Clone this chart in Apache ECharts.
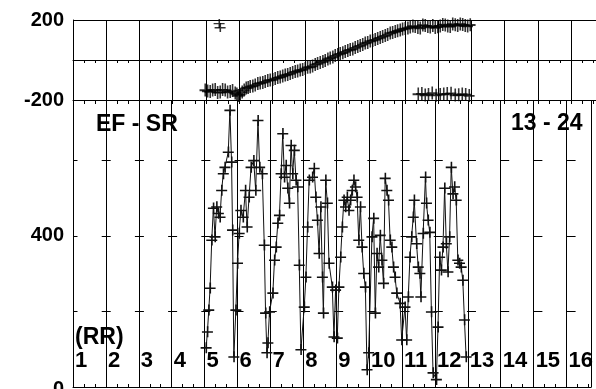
<!DOCTYPE html>
<html>
<head>
<meta charset="utf-8">
<script src="https://cdn.jsdelivr.net/npm/echarts@6/dist/echarts.min.js"></script>
<style>
html, body { margin: 0; padding: 0; background: #fff; }
#main { width: 596px; height: 389px; }
</style>
</head>
<body>
<div id="main"></div>
<script>
// upper panel: -200..200
var upperDays = [4.976, 5.127, 5.277, 5.428, 5.578, 5.729, 5.880, 5.970, 6.090, 6.211,
  6.331, 6.482, 6.633, 6.783, 6.934, 7.084, 7.235, 7.386, 7.536, 7.687,
  7.837, 7.988, 8.139, 8.289, 8.440, 8.590, 8.741, 8.892, 9.042, 9.193,
  9.343, 9.494, 9.645, 9.795, 9.946, 10.096, 10.247, 10.398, 10.548, 10.699,
  10.849, 11.000, 11.151, 11.301, 11.452, 11.602, 11.753, 11.904, 12.054, 12.205,
  12.355, 12.506, 12.657, 12.807, 12.958];
var upperValues = [-150, -158, -148, -160, -150, -158, -165, -178, -160, -140,
  -132, -125, -115, -108, -100, -92, -85, -75, -68, -58,
  -50, -42, -35, -22, -12, -2, 10, 22, 32, 42,
  52, 62, 72, 85, 95, 102, 112, 122, 135, 142,
  150, 158, 165, 168, 160, 172, 165, 162, 170, 175,
  168, 176, 180, 172, 176];
var upperExtraDays = [5.05, 5.20, 5.35, 5.50, 5.65, 5.80, 5.93, 6.03, 6.15, 6.27,
  6.41, 6.56, 6.71, 6.86, 7.01, 7.16, 7.31, 7.46, 7.61, 7.76,
  7.91, 8.06, 8.21, 8.36, 8.52, 8.67, 8.82, 8.97, 9.12, 9.27,
  9.42, 9.57, 9.72, 9.87, 10.02, 10.17, 10.32, 10.47, 10.62, 10.77,
  10.92, 11.08, 11.23, 11.38, 11.53, 11.68, 11.83, 11.98, 12.13, 12.28,
  12.43, 12.58, 12.73, 12.88];
var upperExtraValues = [-155, -150, -162, -148, -160, -152, -170, -172, -150, -138,
  -130, -118, -112, -102, -98, -88, -80, -72, -62, -55,
  -48, -36, -30, -18, -8, 5, 15, 28, 36, 48,
  55, 68, 78, 88, 98, 108, 118, 128, 138, 146,
  155, 160, 170, 163, 175, 168, 172, 166, 178, 170,
  180, 172, 178, 170];
var upperLowDays = [11.392, 11.50, 11.602, 11.70, 11.813, 11.93, 12.054, 12.16, 12.265, 12.38,
  12.506, 12.61, 12.717, 12.82, 12.928];
var upperLowValues = [-170, -168, -175, -172, -165, -176, -172, -170, -168, -166,
  -175, -174, -170, -172, -178];
var upperOddDays = [5.40, 5.43];
var upperOddValues = [183, 162];

// lower panel: 0..760
var lowerDays = [5.046, 5.086, 5.126, 5.167, 5.217, 5.267, 5.317, 5.367, 5.418, 5.468,
  5.518, 5.568, 5.618, 5.719, 5.769, 5.819, 5.849, 5.889, 5.950, 6.000,
  6.050, 6.100, 6.171, 6.241, 6.291, 6.351, 6.412, 6.492, 6.552, 6.622,
  6.673, 6.753, 6.813, 6.853, 6.893,
  6.923, 6.973, 7.074, 7.124, 7.174, 7.224, 7.275, 7.325, 7.375, 7.425,
  7.475, 7.526, 7.576, 7.626, 7.676, 7.726, 7.777, 7.827, 7.877, 7.927,
  8.028, 8.078, 8.128, 8.178, 8.279, 8.329, 8.379, 8.429, 8.479, 8.530,
  8.580, 8.610, 8.680, 8.730, 8.781, 8.881, 8.931, 8.981,
  9.032, 9.082, 9.133, 9.183, 9.233, 9.283, 9.333, 9.384, 9.434, 9.484,
  9.534, 9.584, 9.635, 9.685, 9.735, 9.785, 9.835, 9.886, 9.936, 9.986,
  10.086, 10.137, 10.187, 10.237, 10.287, 10.337, 10.388, 10.438, 10.488, 10.538,
  10.588, 10.639, 10.689, 10.739, 10.789, 10.839, 10.940, 10.990, 11.090,
  11.140, 11.190, 11.241, 11.291, 11.341, 11.371, 11.441, 11.492, 11.542, 11.572,
  11.642, 11.712, 11.743, 11.793, 11.843, 11.893, 11.943, 12.044, 12.094, 12.144,
  12.194, 12.245, 12.295, 12.345, 12.395, 12.445, 12.496, 12.546, 12.596, 12.646,
  12.696, 12.747, 12.797, 12.847, 12.897, 12.948];
var lowerValues = [104, 146, 204, 262, 389, 474, 398, 477, 460, 450,
  521, 565, 582, 622, 733, 596, 416, 80, 204, 328,
  407, 468, 450, 521, 424, 503, 582, 600, 521, 706,
  582, 565, 376, 196, 91,
  117, 199, 249, 336, 371, 434, 455, 565, 671, 556,
  587, 527, 487, 640, 565, 627, 548, 530, 323, 99,
  212, 291, 424, 548, 556, 579, 503, 442, 354, 477,
  291, 196, 548, 487, 328, 265, 133, 257,
  130, 265, 344, 424, 495, 477, 503, 468, 495, 521,
  548, 530, 503, 389, 477, 371, 301, 265, 46, 91,
  398, 447, 196, 354, 318, 402, 336, 275, 553, 521,
  495, 389, 371, 318, 291, 249, 222, 125, 212,
  125, 239, 344, 398, 450, 495, 380, 318, 301, 239,
  407, 556, 487, 442, 410, 199, 38, 20, 159, 344,
  310, 371, 527, 380, 305, 398, 582, 512, 530, 495,
  336, 328, 318, 283, 178, 80];

var upperLabels = [-200, 200];
var lowerLabels = [0, 400];

function zip(a, b) {
  var out = [];
  for (var i = 0; i < a.length; i++) out.push([a[i], b[i]]);
  return out;
}

var plus = 'path://M4,0h1.3v9h-1.3z M0,4h9v1.3h-9z';
var boldFont = 'bold 20px "Liberation Sans"';
var labelFont = { color: '#000', fontWeight: 'bold', fontFamily: 'Liberation Sans', fontSize: 20 };
var xMin = 1, xMax = 16.75;
var step = 523 / (xMax - xMin); // px per day

var myChart = echarts.init(document.getElementById('main'));

var option = {
  animation: false,
  backgroundColor: '#fff',
  grid: [
    { left: 73, top: 20, right: 0, height: 80 },
    { left: 73, top: 100, right: 0, bottom: 2 }
  ],
  xAxis: [
    {
      gridIndex: 0, type: 'value', position: 'top', min: xMin, max: xMax, interval: 1,
      axisLine: { show: true, lineStyle: { color: '#000', width: 1 } },
      axisTick: { show: true, inside: true, length: 3, lineStyle: { color: '#000' } },
      minorTick: { show: true, splitNumber: 3, length: 3, lineStyle: { color: '#000' } },
      splitLine: { show: true, lineStyle: { color: '#000', width: 1 } },
      axisLabel: { show: false }
    },
    {
      gridIndex: 0, type: 'value', position: 'bottom', min: xMin, max: xMax, interval: 1,
      axisLine: { show: true, onZero: false, lineStyle: { color: '#000', width: 1 } },
      axisTick: { show: true, inside: false, length: 4, lineStyle: { color: '#000' } },
      minorTick: { show: true, splitNumber: 3, length: 4, lineStyle: { color: '#000' } },
      splitLine: { show: false },
      axisLabel: { show: false }
    },
    {
      gridIndex: 1, type: 'value', position: 'bottom', min: xMin, max: xMax, interval: 1,
      axisLine: { show: true, onZero: false, lineStyle: { color: '#000', width: 1 } },
      axisTick: { show: true, inside: true, length: 4, lineStyle: { color: '#000' } },
      minorTick: { show: true, splitNumber: 3, length: 3, lineStyle: { color: '#000' } },
      splitLine: { show: true, lineStyle: { color: '#000', width: 1 } },
      axisLabel: {
        show: true, inside: true, margin: 26, align: 'left', verticalAlign: 'middle', padding: [0, 0, 0, 2],
        color: '#000', fontWeight: 'bold', fontFamily: 'Liberation Sans', fontSize: 22,
        showMaxLabel: false,
        formatter: function (v) { return Math.round(v) === v ? String(v) : ''; }
      }
    }
  ],
  yAxis: [
    {
      gridIndex: 0, type: 'value', min: -200, max: 200, interval: 200,
      axisLine: { show: true, lineStyle: { color: '#000', width: 1 } },
      axisTick: { show: false },
      splitLine: { show: true, lineStyle: { color: '#000', width: 1 } },
      axisLabel: Object.assign({ margin: 9,
        formatter: function (v) {
          return upperLabels.indexOf(v) >= 0 ? String(v) : '';
        } }, labelFont)
    },
    {
      gridIndex: 1, type: 'value', min: 0, max: 760, interval: 200,
      axisLine: { show: true, lineStyle: { color: '#000', width: 1 } },
      axisTick: { show: false },
      // short "+" marks on every vertical gridline
      splitLine: { show: true, lineStyle: { color: '#000', width: 1, type: [9, step - 9], dashOffset: 4.5 } },
      // the axis pushes the edge label upward, so the minimum label is drawn below as a graphic
      axisLabel: Object.assign({ margin: 9, showMaxLabel: false, showMinLabel: false,
        formatter: function (v) {
          return lowerLabels.indexOf(v) >= 0 ? String(v) : '';
        } }, labelFont)
    }
  ],
  graphic: [
    { id: 'ef', type: 'text', x: 96, y: 125, style: { text: 'EF - SR', font: 'bold 23px "Liberation Sans"', fill: '#000', verticalAlign: 'middle' } },
    { id: 'hrs', type: 'text', x: 511, y: 124, style: { text: '13 - 24', font: 'bold 23px "Liberation Sans"', fill: '#000', verticalAlign: 'middle' } },
    { id: 'rr', type: 'text', x: 75, y: 338, style: { text: '(RR)', font: 'bold 23px "Liberation Sans"', fill: '#000', verticalAlign: 'middle' } }
  ],
  series: [
    {
      type: 'scatter', xAxisIndex: 0, yAxisIndex: 0,
      symbol: plus, symbolSize: [11, 13],
      itemStyle: { color: '#000' },
      data: zip(upperDays, upperValues)
    },
    {
      type: 'scatter', xAxisIndex: 0, yAxisIndex: 0,
      symbol: plus, symbolSize: [11, 13],
      itemStyle: { color: '#000' },
      data: zip(upperExtraDays, upperExtraValues)
    },
    {
      type: 'scatter', xAxisIndex: 0, yAxisIndex: 0,
      symbol: plus, symbolSize: [11, 13],
      itemStyle: { color: '#000' },
      data: zip(upperLowDays, upperLowValues)
    },
    {
      type: 'scatter', xAxisIndex: 0, yAxisIndex: 0,
      symbol: plus, symbolSize: [11, 9],
      itemStyle: { color: '#000' },
      data: zip(upperOddDays, upperOddValues)
    },
    {
      type: 'line', xAxisIndex: 2, yAxisIndex: 1,
      symbol: plus, symbolSize: 11, showSymbol: true, showAllSymbol: true,
      lineStyle: { color: '#111', width: 1 },
      itemStyle: { color: '#111' },
      data: zip(lowerDays, lowerValues)
    }
  ]
};

myChart.setOption(option);

// "0" label at the foot of the lower axis, placed through the axis scale
var zeroY = myChart.convertToPixel({ yAxisIndex: 1 }, lowerLabels[0]);
option.graphic.push({ id: 'zero', type: 'text', x: 64, y: zeroY + 2,
  style: { text: String(lowerLabels[0]), font: boldFont, fill: '#000', align: 'right', verticalAlign: 'middle' } });
myChart.setOption({ graphic: option.graphic });
</script>
</body>
</html>
